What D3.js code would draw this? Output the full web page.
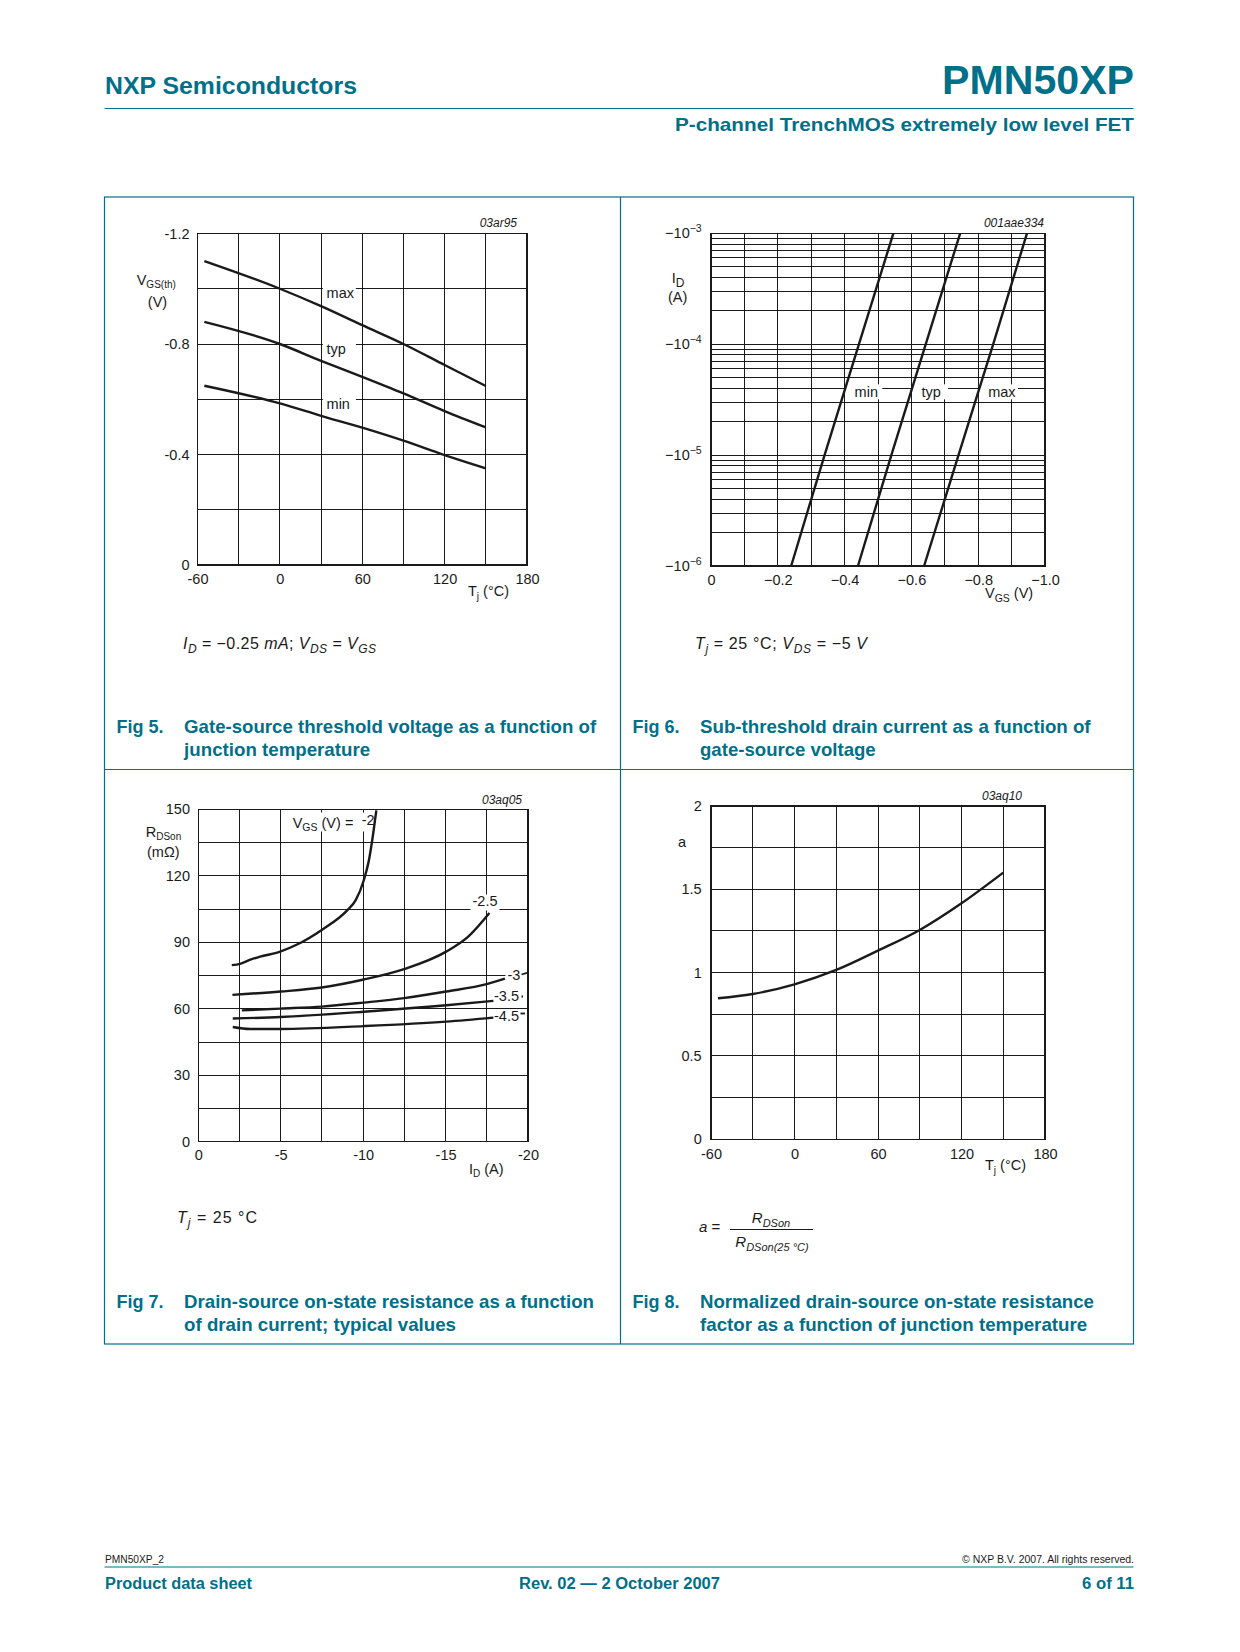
<!DOCTYPE html>
<html><head><meta charset="utf-8">
<script src="https://cdn.jsdelivr.net/npm/d3@7/dist/d3.min.js"></script>
<style>
body{margin:0;background:#fff;}
svg{display:block;font-family:"Liberation Sans",Arial,Helvetica,sans-serif;}
</style></head><body>
<svg id="page" width="1240" height="1652"></svg>
<script>
// ---------- DATA ----------
// Fig 5: VGS(th) vs Tj
const fig5Temp = [-55, 0, 30, 60, 90, 120, 150];
const fig5Max = [-1.10, -1.00, -0.937, -0.868, -0.80, -0.724, -0.648];
const fig5Typ = [-0.88, -0.80, -0.739, -0.681, -0.621, -0.557, -0.498];
const fig5Min = [-0.649, -0.585, -0.540, -0.497, -0.450, -0.398, -0.350];
const fig5XTicks = [-60, 0, 60, 120, 180];
const fig5YTicks = [-1.2, -0.8, -0.4, 0];
const fig5XGrid = [-60, -30, 0, 30, 60, 90, 120, 150, 180];
const fig5YGrid = [0, -0.2, -0.4, -0.6, -0.8, -1.0, -1.2];

// Fig 6: ID vs VGS (sub-threshold)
const fig6Current = [-1e-6, -1e-5, -1e-4, -1e-3];
const fig6Min = [-0.240, -0.340, -0.443, -0.546];
const fig6Typ = [-0.440, -0.540, -0.643, -0.746];
const fig6Max = [-0.638, -0.741, -0.845, -0.946];
const fig6XTicks = [0, -0.2, -0.4, -0.6, -0.8, -1.0];
const fig6YTicks = [-1e-3, -1e-4, -1e-5, -1e-6];
const fig6XGrid = [0, -0.1, -0.2, -0.3, -0.4, -0.5, -0.6, -0.7, -0.8, -0.9, -1.0];

// Fig 7: RDSon vs ID
const fig7I_2 = [-2.03, -2.54, -3.2, -3.75, -4.97, -5.99, -7.49, -9.03, -9.54, -10.04, -10.35, -10.61, -10.80];
const fig7R_2 = [79.7, 80.3, 82.3, 83.5, 85.8, 89.0, 95.6, 104.4, 108.9, 118.0, 127.0, 139.1, 149.5];
const fig7I_25 = [-2.07, -4.99, -7.49, -10.04, -12.48, -15.04, -16.34, -17.66];
const fig7R_25 = [66.3, 67.8, 69.6, 73.2, 77.9, 85.8, 92.3, 103.2];
const fig7I_3 = [-2.64, -4.99, -7.49, -10.04, -12.48, -15.04, -17.49, -18.6];
const fig7R_3 = [59.3, 60.1, 61.0, 62.8, 64.8, 67.8, 71.1, 73.6];
const fig7I_35 = [-2.09, -4.99, -10.04, -15.04, -17.9];
const fig7R_35 = [55.6, 56.3, 58.7, 61.6, 63.6];
const fig7I_45 = [-2.09, -3.15, -4.99, -10.04, -15.04, -17.9];
const fig7R_45 = [51.8, 50.9, 50.9, 52.2, 54.2, 56.0];
const fig7XTicks = [0, -5, -10, -15, -20];
const fig7YTicks = [0, 30, 60, 90, 120, 150];
const fig7XGrid = [0, -2.5, -5, -7.5, -10, -12.5, -15, -17.5, -20];
const fig7YGrid = [0, 15, 30, 45, 60, 75, 90, 105, 120, 135, 150];

// Fig 8: normalized RDSon factor vs Tj
const fig8Temp = [-55, -30, 0, 30, 60, 90, 120, 150];
const fig8A = [0.846, 0.872, 0.93, 1.016, 1.132, 1.256, 1.416, 1.60];
const fig8XTicks = [-60, 0, 60, 120, 180];
const fig8YTicks = [0, 0.5, 1, 1.5, 2];
const fig8XGrid = [-60, -30, 0, 30, 60, 90, 120, 150, 180];
const fig8YGrid = [0, 0.25, 0.5, 0.75, 1, 1.25, 1.5, 1.75, 2];

// ---------- DRAWING ----------
const TEAL = "#00708a";
const INK = "#1a1a1a";
const FONT = "'Liberation Sans', Arial, Helvetica, sans-serif";
const svg = d3.select("#page");
svg.append("rect").attr("width", 1240).attr("height", 1652).attr("fill", "#fff");

function fitText(x, y, str, size, len, opts = {}) {
  return svg.append("text").attr("x", x).attr("y", y).text(str)
    .attr("font-size", size).attr("font-weight", opts.weight || "normal")
    .attr("fill", opts.fill || INK).attr("text-anchor", opts.anchor || "start")
    .attr("textLength", len).attr("lengthAdjust", "spacingAndGlyphs");
}

function rich(g, x, y, parts, size, anchor) {
  const t = g.append("text").attr("x", x).attr("y", y).attr("font-size", size)
    .attr("fill", INK).attr("text-anchor", anchor || "start");
  let shift = 0;
  parts.forEach(p => {
    const [str, opt] = Array.isArray(p) ? [p[0], p[1] || {}] : [p, {}];
    const ts = t.append("tspan").text(str);
    const target = opt.sub ? (opt.dy || size * 0.26) : opt.sup ? -size * 0.42 : 0;
    ts.attr("dy", target - shift);
    shift = target;
    if (opt.sub || opt.sup) ts.attr("font-size", opt.size || size * 0.7);
    if (opt.italic) ts.attr("font-style", "italic");
  });
  return t;
}

// header
fitText(105, 94, "NXP Semiconductors", 23, 252, {weight: "bold", fill: TEAL});
fitText(1134, 93.5, "PMN50XP", 41, 192, {weight: "bold", fill: TEAL, anchor: "end"});
svg.append("line").attr("x1", 104.5).attr("x2", 1133.5).attr("y1", 108.5).attr("y2", 108.5)
  .attr("stroke", TEAL).attr("stroke-width", 1.2);
fitText(1134, 131, "P-channel TrenchMOS extremely low level FET", 19, 459, {weight: "bold", fill: TEAL, anchor: "end"});

// frame boxes
const box = svg.append("g").attr("stroke", TEAL).attr("stroke-width", 1.2).attr("fill", "none");
box.append("rect").attr("x", 104.5).attr("y", 197).attr("width", 1029).attr("height", 1147);
box.append("line").attr("x1", 620.5).attr("x2", 620.5).attr("y1", 197).attr("y2", 1344);
box.append("line").attr("x1", 104.5).attr("x2", 1133.5).attr("y1", 769.5).attr("y2", 769.5);

// captions
function caption(x, y, num, l1, w1, l2, w2) {
  fitText(x, y, num, 18.5, 47, {weight: "bold", fill: TEAL});
  fitText(x + 67.5, y, l1, 18.5, w1, {weight: "bold", fill: TEAL});
  fitText(x + 67.5, y + 23, l2, 18.5, w2, {weight: "bold", fill: TEAL});
}
caption(116.6, 732.7, "Fig 5.", "Gate-source threshold voltage as a function of", 412, "junction temperature", 186);
caption(632.5, 732.7, "Fig 6.", "Sub-threshold drain current as a function of", 390.6, "gate-source voltage", 175.7);
caption(116.6, 1308.3, "Fig 7.", "Drain-source on-state resistance as a function", 409.8, "of drain current; typical values", 271.9);
caption(632.5, 1308.3, "Fig 8.", "Normalized drain-source on-state resistance", 393.9, "factor as a function of junction temperature", 387.2);

// footer
fitText(105, 1563, "PMN50XP_2", 10, 59);
fitText(1134, 1563, "\u00A9 NXP B.V. 2007. All rights reserved.", 10, 172, {anchor: "end"});
svg.append("line").attr("x1", 104.5).attr("x2", 1133.5).attr("y1", 1567).attr("y2", 1567)
  .attr("stroke", TEAL).attr("stroke-width", 1.2);
fitText(105, 1589, "Product data sheet", 16, 147, {weight: "bold", fill: TEAL});
fitText(619.5, 1589, "Rev. 02 \u2014 2 October 2007", 16, 201, {weight: "bold", fill: TEAL, anchor: "middle"});
fitText(1134, 1589, "6 of 11", 16, 52, {weight: "bold", fill: TEAL, anchor: "end"});

// chart frame builder
function chart(cfg) {
  const g = svg.append("g");
  const x = cfg.x, y = cfg.y;
  const [x0, x1] = x.range();
  const [y0, y1] = y.range();
  const grid = g.append("g").attr("stroke", INK).attr("stroke-width", 1).attr("shape-rendering", "crispEdges");
  grid.selectAll("line.v").data(cfg.xGrid).join("line").attr("class", "v")
    .attr("x1", d => x(d)).attr("x2", d => x(d)).attr("y1", y0).attr("y2", y1);
  grid.selectAll("line.h").data(cfg.yGrid).join("line").attr("class", "h")
    .attr("y1", d => y(d)).attr("y2", d => y(d)).attr("x1", x0).attr("x2", x1);
  g.append("rect").attr("x", x0).attr("y", y1).attr("width", x1 - x0).attr("height", y0 - y1)
    .attr("fill", "none").attr("stroke", INK).attr("stroke-width", 1.2).attr("shape-rendering", "crispEdges");
  const bgLayer = g.append("g");
  const curveLayer = g.append("g");
  const textLayer = g.append("g");
  const ax = g.append("g").attr("transform", `translate(0,${y0})`)
    .call(d3.axisBottom(x).tickValues(cfg.xTicks).tickSize(0).tickPadding(cfg.xPad).tickFormat(cfg.xFmt));
  ax.select(".domain").remove();
  ax.attr("font-family", FONT).attr("font-size", 14.5);
  ax.selectAll("text").attr("fill", INK);
  const ay = g.append("g").attr("transform", `translate(${x0},0)`)
    .call(d3.axisLeft(y).tickValues(cfg.yTicks).tickSize(0).tickPadding(cfg.yPad).tickFormat(cfg.yFmt));
  ay.select(".domain").remove();
  ay.attr("font-family", FONT).attr("font-size", 14.5);
  ay.selectAll("text").attr("fill", INK);
  g.append("text").attr("x", cfg.idX).attr("y", cfg.idY).attr("text-anchor", "end")
    .attr("font-style", "italic").attr("font-size", cfg.idSize).attr("fill", INK).text(cfg.id);
  return {g, x, y, bgLayer, curveLayer, textLayer, ay, ax};
}
function bg(layer, x, y, w, h) {
  layer.append("rect").attr("x", x).attr("y", y).attr("width", w).attr("height", h).attr("fill", "#fff");
}
function curve(layer, x, y, xs, ys, curveType) {
  const line = d3.line().x(d => x(d[0])).y(d => y(d[1])).curve(curveType || d3.curveMonotoneX);
  layer.append("path").attr("d", line(d3.zip(xs, ys))).attr("fill", "none")
    .attr("stroke", INK).attr("stroke-width", 2.4).attr("stroke-linejoin", "round");
}
const hyph = d => d === 0 ? "0" : String(d);

// ---- Fig 5 ----
{
  const x = d3.scaleLinear().domain([-60, 180]).range([197.5, 527]);
  const y = d3.scaleLinear().domain([0, -1.2]).range([565, 233.5]);
  const c = chart({x, y, xGrid: fig5XGrid, yGrid: fig5YGrid, xTicks: fig5XTicks, yTicks: fig5YTicks,
    xPad: 8.7, yPad: 8, xFmt: hyph, yFmt: d => d === 0 ? "0" : d.toFixed(1),
    id: "03ar95", idX: 517, idY: 227, idSize: 12});
  [["max", -1.0], ["typ", -0.8], ["min", -0.6]].forEach(([t, v]) => {
    bg(c.bgLayer, x(30) + 1.8, y(v) - 4, 33, 15);
    c.textLayer.append("text").attr("x", x(30) + 5.5).attr("y", y(v) + 9.5).attr("font-size", 14.5).attr("fill", INK).text(t);
  });
  curve(c.curveLayer, x, y, fig5Temp, fig5Max);
  curve(c.curveLayer, x, y, fig5Temp, fig5Typ);
  curve(c.curveLayer, x, y, fig5Temp, fig5Min);
  rich(c.g, 136.7, 285, ["V", ["GS(th)", {sub: true, size: 10, dy: 3}]], 14.5);
  rich(c.g, 157.5, 306.7, ["(V)"], 14.5, "middle");
  rich(c.g, 468, 596, ["T", ["j", {sub: true, size: 10, dy: 3.5}], " (\u00B0C)"], 14.5);
  rich(c.g, 183, 649, [["I", {italic: true}], ["D", {sub: true, italic: true, size: 12, dy: 4}], " = \u22120.25 ",
    ["mA", {italic: true}], "; ", ["V", {italic: true}], ["DS", {sub: true, italic: true, size: 12, dy: 4}], " = ",
    ["V", {italic: true}], ["GS", {sub: true, italic: true, size: 12, dy: 4}]], 16)
    .attr("textLength", 193).attr("lengthAdjust", "spacing");
}

// ---- Fig 6 ----
{
  const x = d3.scaleLinear().domain([0, -1.0]).range([711, 1045]);
  const y = d3.scaleLog().domain([-1e-6, -1e-3]).range([566, 233.3]);
  const yGrid = [];
  for (let e = -6; e <= -4; e++) for (let k = 1; k <= 9; k++) yGrid.push(-k * Math.pow(10, e));
  yGrid.push(-1e-3);
  const c = chart({x, y, xGrid: fig6XGrid, yGrid, xTicks: fig6XTicks, yTicks: fig6YTicks,
    xPad: 8.7, yPad: 9.3, xFmt: d => d === 0 ? "0" : "\u2212" + Math.abs(d).toFixed(1), yFmt: () => "",
    id: "001aae334", idX: 1044, idY: 226.7, idSize: 12});
  c.ay.selectAll(".tick text").each(function(d) {
    const s = d3.select(this);
    s.text(null);
    s.append("tspan").text("\u221210");
    s.append("tspan").attr("dy", -6.5).attr("font-size", 10.5).text("\u2212" + Math.abs(Math.round(Math.log10(-d))));
  });
  [["min", -0.43, 37], ["typ", -0.63, 36], ["max", -0.83, 39]].forEach(([t, v, w]) => {
    bg(c.bgLayer, x(v) - 9.3, y(-4e-5) - 4, w, 15);
    c.textLayer.append("text").attr("x", x(v)).attr("y", y(-4e-5) + 9).attr("font-size", 14.5).attr("fill", INK).text(t);
  });
  curve(c.curveLayer, x, y, fig6Min, fig6Current, d3.curveLinear);
  curve(c.curveLayer, x, y, fig6Typ, fig6Current, d3.curveLinear);
  curve(c.curveLayer, x, y, fig6Max, fig6Current, d3.curveLinear);
  rich(c.g, 671.7, 283, ["I", ["D", {sub: true, size: 12, dy: 3.5}]], 14.5);
  rich(c.g, 668, 301.5, ["(A)"], 14.5);
  rich(c.g, 985, 598, ["V", ["GS", {sub: true, size: 10.5, dy: 3.5}], " (V)"], 14.5);
  rich(c.g, 695, 649, [["T", {italic: true}], ["j", {sub: true, italic: true, size: 12, dy: 4}], " = 25  \u00B0C; ",
    ["V", {italic: true}], ["DS", {sub: true, italic: true, size: 12, dy: 4}], " = \u22125 ", ["V", {italic: true}]], 16)
    .attr("textLength", 172).attr("lengthAdjust", "spacing");
}

// ---- Fig 7 ----
{
  const x = d3.scaleLinear().domain([0, -20]).range([198.3, 528]);
  const y = d3.scaleLinear().domain([0, 150]).range([1141.8, 809.3]);
  const c = chart({x, y, xGrid: fig7XGrid, yGrid: fig7YGrid, xTicks: fig7XTicks, yTicks: fig7YTicks,
    xPad: 7.8, yPad: 8.3, xFmt: hyph, yFmt: d => String(d),
    id: "03aq05", idX: 522, idY: 803.5, idSize: 12});
  bg(c.bgLayer, 289, 812.5, 86, 19);
  bg(c.bgLayer, 470.5, 894.5, 29, 16);
  bg(c.bgLayer, 505.5, 969, 21.5, 13);
  curve(c.curveLayer, x, y, fig7I_2, fig7R_2);
  curve(c.curveLayer, x, y, fig7I_25, fig7R_25);
  curve(c.curveLayer, x, y, fig7I_3, fig7R_3);
  curve(c.curveLayer, x, y, fig7I_35, fig7R_35);
  curve(c.curveLayer, x, y, fig7I_45, fig7R_45);
  const T = c.textLayer;
  rich(T, 292.7, 827.5, ["V", ["GS", {sub: true, size: 10.5, dy: 3}], ["(V) = ", {}]], 14.5)
    .select("tspan:last-child").attr("dx", 4);
  T.append("text").attr("x", 361.7).attr("y", 825).attr("font-size", 14.5).attr("fill", INK).text("-2");
  T.append("text").attr("x", 485).attr("y", 906).attr("text-anchor", "middle").attr("font-size", 14.5).attr("fill", INK).text("-2.5");
  T.append("text").attr("x", 507.5).attr("y", 979.5).attr("font-size", 14.5).attr("fill", INK).text("-3");
  T.append("text").attr("x", 494).attr("y", 1001).attr("font-size", 14.5).attr("fill", INK).text("-3.5");
  T.append("text").attr("x", 494).attr("y", 1021).attr("font-size", 14.5).attr("fill", INK).text("-4.5");
  const marks = c.textLayer.append("g").attr("stroke", INK).attr("stroke-width", 1.8);
  marks.append("line").attr("x1", 521.5).attr("x2", 527).attr("y1", 974.5).attr("y2", 972.8);
  marks.append("line").attr("x1", 521.5).attr("x2", 523).attr("y1", 996.5).attr("y2", 996.5);
  marks.append("line").attr("x1", 520.5).attr("x2", 525).attr("y1", 1013.5).attr("y2", 1013.5);
  rich(c.g, 145.7, 836.7, ["R", ["DSon", {sub: true, size: 10, dy: 3}]], 14.5);
  rich(c.g, 147, 857, ["(m\u03A9)"], 14.5);
  rich(c.g, 469, 1174, ["I", ["D", {sub: true, size: 10, dy: 3}], " (A)"], 14.5);
  rich(c.g, 177, 1223, [["T", {italic: true}], ["j", {sub: true, italic: true, size: 12, dy: 4}], " = 25  \u00B0C"], 16)
    .attr("textLength", 80).attr("lengthAdjust", "spacing");
}

// ---- Fig 8 ----
{
  const x = d3.scaleLinear().domain([-60, 180]).range([711, 1045]);
  const y = d3.scaleLinear().domain([0, 2]).range([1139.3, 806]);
  const c = chart({x, y, xGrid: fig8XGrid, yGrid: fig8YGrid, xTicks: fig8XTicks, yTicks: fig8YTicks,
    xPad: 9.5, yPad: 9.3, xFmt: hyph, yFmt: d => String(d),
    id: "03aq10", idX: 1022, idY: 800, idSize: 12});
  curve(c.curveLayer, x, y, fig8Temp, fig8A);
  c.g.append("text").attr("x", 678).attr("y", 846.7).attr("font-size", 14.5).attr("fill", INK).text("a");
  rich(c.g, 985, 1170, ["T", ["j", {sub: true, size: 10, dy: 3.5}], " (\u00B0C)"], 14.5);
  rich(c.g, 699, 1232, [["a", {italic: true}], " ="], 15);
  c.g.append("line").attr("x1", 730).attr("x2", 813).attr("y1", 1229.5).attr("y2", 1229.5).attr("stroke", INK).attr("stroke-width", 1);
  rich(c.g, 771, 1223, [["R", {italic: true}], ["DSon", {sub: true, italic: true, size: 11, dy: 3.5}]], 15, "middle");
  rich(c.g, 772, 1247, [["R", {italic: true}], ["DSon(25 \u00B0C)", {sub: true, italic: true, size: 11, dy: 3.5}]], 15, "middle");
}
</script>
</body></html>
